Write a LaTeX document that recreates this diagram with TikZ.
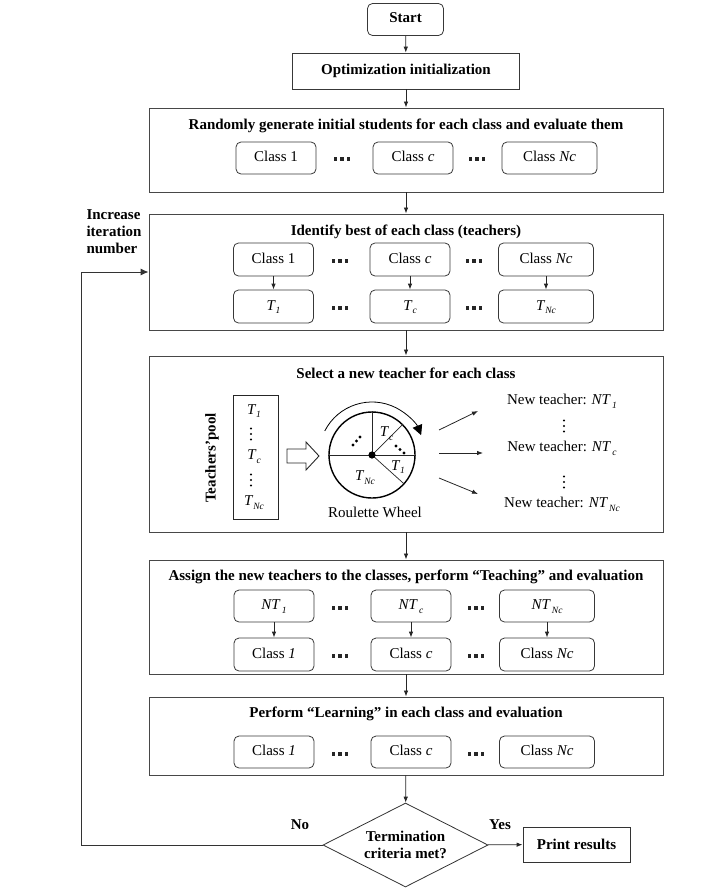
\documentclass[tikz,border=0pt]{standalone}
\usepackage{fontspec}
\setmainfont{Liberation Serif}
\usetikzlibrary{arrows.meta,shapes.geometric}

\newcommand{\lowsub}[1]{\raisebox{-0.55ex}{\fontsize{9.5}{9.5}\selectfont\itshape #1}}
\newcommand{\Tsub}[1]{\textit{T}\lowsub{#1}}
\newcommand{\NTsub}[1]{\textit{NT}\hspace{1.2pt}\lowsub{#1}}

\begin{document}
\begin{tikzpicture}[x=1pt,y=-1pt,
  font=\fontsize{15}{17}\selectfont,
  bigbox/.style={draw=black!72, line width=0.9pt, minimum width=514pt, inner sep=0pt},
  cbox/.style={draw=black!78, line width=0.8pt, rounded corners=5pt, minimum height=32pt,
    inner sep=0pt, text height=11pt, text depth=4pt},
  ttl/.style={font=\fontsize{15}{17}\selectfont\bfseries},
  lbl/.style={inner sep=0pt},
  arr/.style={draw=black!85, line width=0.8pt, -{Latex[length=6pt,width=4.5pt]}},
  bigarr/.style={draw=black!80, line width=0.9pt, -{Latex[length=8pt,width=7pt]}},
  thin/.style={draw=black!85, line width=0.7pt},
  hdots/.pic={\foreach \i in {-6.5,0,6.5} \fill[black!85] (\i-1.9,-1.9) rectangle (\i+1.9,1.9);},
  vdts/.pic={\foreach \i in {-5.5,0,5.5} \fill[black] (0,\i) circle[radius=1.2pt];}
]
\useasboundingbox (0,0) rectangle (709,894);

% ---- top boxes
\node[cbox, ttl, minimum width=76pt, minimum height=32pt] (start) at (405.5,19.5) {Start};
\node[draw=black!78, line width=0.8pt, ttl, minimum width=227pt, minimum height=36pt, inner sep=0pt] (opt) at (406,71) {Optimization initialization};

% ---- Randomly generate
\node[bigbox, minimum height=84pt] (rand) at (406,150) {};
\node[ttl] (randT) at (406,126) {Randomly generate initial students for each class and evaluate them};
\node[cbox, minimum width=80pt] (r1) at (276,158) {Class 1};
\node[cbox, minimum width=80pt] (r2) at (413,158) {Class \textit{c}};
\node[cbox, minimum width=95pt] (r3) at (549.5,158) {Class \textit{Nc}};
\pic at (342,159) {hdots};
\pic at (477,159) {hdots};

% ---- Identify best
\node[bigbox, minimum height=116pt] (ident) at (406,272) {};
\node[ttl] (identT) at (406,232) {Identify best of each class (teachers)};
\node[cbox, minimum width=80pt, minimum height=33pt] (i1) at (273.5,259.5) {Class 1};
\node[cbox, minimum width=80pt, minimum height=33pt] (i2) at (410,259.5) {Class \textit{c}};
\node[cbox, minimum width=95pt, minimum height=33pt] (i3) at (546,259.5) {Class \textit{Nc}};
\node[cbox, minimum width=80pt, minimum height=33pt] (t1) at (273.5,306.5) {\Tsub{1}};
\node[cbox, minimum width=80pt, minimum height=33pt] (t2) at (410,306.5) {\Tsub{c}};
\node[cbox, minimum width=95pt, minimum height=33pt] (t3) at (546,306.5) {\Tsub{Nc}};
\pic at (340,261) {hdots};
\pic at (340,308) {hdots};
\pic at (474,261) {hdots};
\pic at (474,308) {hdots};
\draw[arr] (i1) -- (t1);
\draw[arr] (i2) -- (t2);
\draw[arr] (i3) -- (t3);

% ---- Select a new teacher
\node[bigbox, minimum height=176pt] (sel) at (406,444) {};
\node[ttl] (selT) at (406,373) {Select a new teacher for each class};
\node[ttl, rotate=90] (tpool) at (212,458) {Teachers’pool};
\node[draw=black!85, line width=1pt, minimum width=45pt, minimum height=124pt, inner sep=0pt] (pool) at (255.5,457) {};
\node[lbl] (p1) at (254,411) {\Tsub{1}};
\pic at (251,434) {vdts};
\node[lbl] (p2) at (254,457) {\Tsub{c}};
\pic at (251,480) {vdts};
\node[lbl] (p3) at (254,503) {\Tsub{Nc}};
\draw[line width=0.9pt, draw=black!85] (287,449) -- (306,449) -- (306,442) -- (319,456) -- (306,470) -- (306,463) -- (287,463) -- cycle;
\node[circle, draw=black, line width=1.4pt, minimum size=86pt, inner sep=0pt] (wheel) at (372,455) {};
\draw[thin] (wheel.west) -- (wheel.east);
\draw[thin] (wheel.center) -- (wheel.north);
\draw[thin] (wheel.center) -- (wheel.45);
\draw[thin] (wheel.center) -- (wheel.-42);
\fill (wheel.center) circle[radius=3.6pt];
\node[lbl] (wc) at (386.5,434) {\Tsub{c}};
\node[lbl] (w1) at (398,467) {\Tsub{1}};
\node[lbl] (wn) at (365,478) {\Tsub{Nc}};
\foreach \p in {(396,446),(400,449.5),(404,453),(353,445),(356.5,441),(360,437)} \fill \p circle[radius=1.6pt];
\begin{scope}[shift={(372,455)}, yscale=-1]
  \draw[line width=0.8pt, -{Triangle[length=10pt,width=10pt]}] (153:53) arc[start angle=153, end angle=22, radius=53];
\end{scope}
\node (roul) at (375,512) {Roulette Wheel};
\coordinate (a1s) at (439,430); \coordinate (a1e) at (478,411);
\coordinate (a2s) at (439,453); \coordinate (a2e) at (483,453);
\coordinate (a3s) at (439,478); \coordinate (a3e) at (478,494);
\draw[arr] (a1s) -- (a1e);
\draw[arr] (a2s) -- (a2e);
\draw[arr] (a3s) -- (a3e);
\node[lbl] (nt1) at (562,401) {New teacher: \NTsub{1}};
\pic at (564,426) {vdts};
\node[lbl] (nt2) at (562,448) {New teacher: \NTsub{c}};
\pic at (564,482) {vdts};
\node[lbl] (nt3) at (562,504) {New teacher: \NTsub{Nc}};

% ---- Assign
\node[bigbox, minimum height=114pt] (asg) at (406,617) {};
\node[ttl] (asgT) at (406,577) {Assign the new teachers to the classes, perform “Teaching” and evaluation};
\node[cbox, minimum width=80pt] (n1) at (274,606) {\NTsub{1}};
\node[cbox, minimum width=80pt] (n2) at (411,606) {\NTsub{c}};
\node[cbox, minimum width=95pt] (n3) at (547,606) {\NTsub{Nc}};
\node[cbox, minimum width=80pt, minimum height=33pt] (c1) at (274,654.5) {Class \textit{1}};
\node[cbox, minimum width=80pt, minimum height=33pt] (c2) at (411,654.5) {Class \textit{c}};
\node[cbox, minimum width=95pt, minimum height=33pt] (c3) at (547,654.5) {Class \textit{Nc}};
\pic at (340,608) {hdots};
\pic at (340,656) {hdots};
\pic at (476,608) {hdots};
\pic at (476,656) {hdots};
\draw[arr] (n1) -- (c1);
\draw[arr] (n2) -- (c2);
\draw[arr] (n3) -- (c3);

% ---- Learning
\node[bigbox, minimum height=78pt] (lrn) at (406,736) {};
\node[ttl] (lrnT) at (406,714) {Perform “Learning” in each class and evaluation};
\node[cbox, minimum width=80pt] (l1) at (274,752) {Class \textit{1}};
\node[cbox, minimum width=80pt] (l2) at (411,752) {Class \textit{c}};
\node[cbox, minimum width=95pt] (l3) at (547,752) {Class \textit{Nc}};
\pic at (340,754) {hdots};
\pic at (476,754) {hdots};

% ---- decision
\node[diamond, draw=black!80, line width=0.8pt, ttl, align=center, aspect=2, inner sep=0pt,
  minimum width=165pt, minimum height=84pt] (dia) at (405.5,845) {Termination\\criteria met?};
\node[draw=black!80, line width=0.8pt, ttl, minimum width=107pt, minimum height=35pt, inner sep=0pt] (print) at (576.5,844.5) {Print results};
\node[ttl] (no) at (300,825) {No};
\node[ttl] (yes) at (500,825) {Yes};
\node[ttl, align=left, anchor=west] (inc) at (83,232) {Increase\\iteration\\number};

% ---- main flow
\draw[arr] (start) -- (opt);
\draw[arr] (opt) -- (rand);
\draw[arr] (rand) -- (ident);
\draw[arr] (ident) -- (sel);
\draw[arr] (sel) -- (asg);
\draw[arr] (asg) -- (lrn);
\draw[arr] (lrn) -- (dia);
\draw[arr] (dia) -- (print);
\coordinate (fb) at (81,845);
\draw[bigarr] (dia.west) -- (fb) |- (ident.west);
\end{tikzpicture}
\end{document}
